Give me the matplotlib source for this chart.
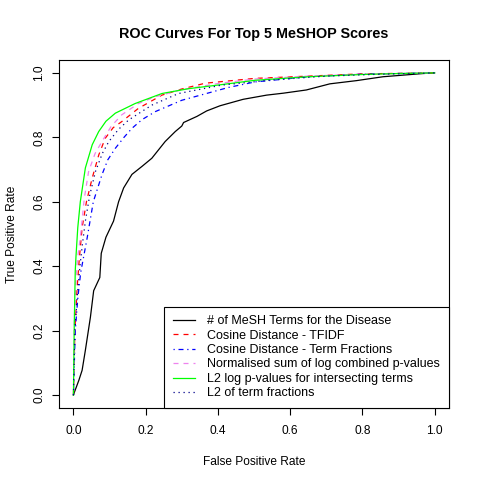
import numpy as np
import matplotlib
matplotlib.use("Agg")
import matplotlib.pyplot as plt

plt.rcParams['font.family'] = ['Liberation Sans', 'DejaVu Sans']

## ROC curves (fpr, tpr)
fpr_nterms = [0, .003, .015, .024, .033, .047, .056, .073, .077, .09, .111, .125, .139, .162, .19, .217, .254, .282, .30, .305, .342, .369, .406, .47, .535, .581, .645, .71, .784, .857, .968, 1.0]
tpr_nterms = [0, .01, .046, .077, .139, .242, .324, .365, .44, .49, .54, .60, .643, .685, .71, .735, .787, .818, .835, .846, .865, .882, .898, .918, .931, .937, .947, .966, .976, .988, .998, 1.0]

fpr_tfidf = [0, .004, .01, .016, .024, .036, .052, .07, .088, .11, .134, .18, .245, .3, .365, .503, .65, .8, 1]
tpr_tfidf = [0, .2, .33, .42, .519, .6, .674, .745, .797, .83, .849, .89, .931, .95, .968, .983, .99, .997, 1]

fpr_cosfrac = [0, .005, .012, .02, .03, .038, .055, .079, .095, .116, .14, .162, .19, .227, .3, .365, .43, .503, .65, .8, 1]
tpr_cosfrac = [0, .2, .3, .38, .44, .488, .6, .684, .73, .766, .8, .828, .855, .88, .915, .935, .955, .972, .988, .996, 1]

fpr_logsum = [0, .003, .008, .012, .019, .03, .042, .06, .079, .105, .134, .18, .227, .3, .4, .503, .65, .8, 1]
tpr_logsum = [0, .25, .38, .43, .488, .61, .694, .75, .787, .835, .87, .905, .926, .948, .967, .981, .99, .996, 1]

fpr_l2logp = [0, .002, .005, .007, .012, .019, .033, .052, .07, .09, .116, .171, .245, .319, .42, .503, .65, .8, .9, 1.0]
tpr_l2logp = [0, .2, .386, .43, .52, .60, .705, .777, .818, .85, .875, .905, .936, .951, .965, .977, .988, .995, .998, 1]

fpr_l2frac = [0, .004, .01, .018, .025, .033, .045, .061, .08, .098, .125, .153, .217, .291, .41, .55, .7, .85, 1]
tpr_l2frac = [0, .2, .3, .4, .47, .54, .62, .694, .75, .787, .825, .854, .90, .936, .962, .978, .99, .996, 1]

labels = ["# of MeSH Terms for the Disease",
          "Cosine Distance - TFIDF",
          "Cosine Distance - Term Fractions",
          "Normalised sum of log combined p-values",
          "L2 log p-values for intersecting terms",
          "L2 of term fractions"]

fig = plt.figure(figsize=(4.8, 4.8), dpi=100)
ax = fig.add_axes([59/480, 1-408/480, 390/480, 348/480])

lw = 0.9
ax.plot(fpr_nterms, tpr_nterms, color='black', lw=lw, label=labels[0])
ax.plot(fpr_tfidf, tpr_tfidf, color='red', lw=lw, dashes=(4, 4), label=labels[1])
ax.plot(fpr_cosfrac, tpr_cosfrac, color='blue', lw=lw, dashes=(1, 3, 4, 3), label=labels[2])
ax.plot(fpr_logsum, tpr_logsum, color='violet', lw=lw, dashes=(4, 4), label=labels[3])
ax.plot(fpr_l2logp, tpr_l2logp, color='#00FF00', lw=lw, label=labels[4])
ax.plot(fpr_l2frac, tpr_l2frac, color='#00008B', lw=lw, dashes=(1, 3), label=labels[5])

ax.set_xlim(-0.04, 1.04)
ax.set_ylim(-0.04, 1.04)
ticks = [0.0, 0.2, 0.4, 0.6, 0.8, 1.0]
ax.set_xticks(ticks)
ax.set_yticks(ticks)
ax.set_xticklabels(["%.1f" % t for t in ticks])
ax.set_yticklabels(["%.1f" % t for t in ticks], rotation=90, va='center')
ax.tick_params(direction='out', length=5, width=0.8, labelsize=8.6)
ax.tick_params(axis='x', pad=7)
ax.tick_params(axis='y', pad=5)
for s in ax.spines.values():
    s.set_linewidth(0.8)

ax.set_xlabel("False Positive Rate", fontsize=8.6, labelpad=14)
ax.set_ylabel("True Positive Rate", fontsize=8.6, labelpad=11)
ax.set_title("ROC Curves For Top 5 MeSHOP Scores", fontsize=10.4, fontweight='bold', pad=16)

leg = ax.legend(loc='lower right', borderaxespad=0, fontsize=9.0, fancybox=False,
                edgecolor='black', framealpha=1, handlelength=1.75, handletextpad=1.0,
                labelspacing=0.19, borderpad=0.7)
leg.get_frame().set_linewidth(0.8)

fig.savefig("out.png", dpi=100)
